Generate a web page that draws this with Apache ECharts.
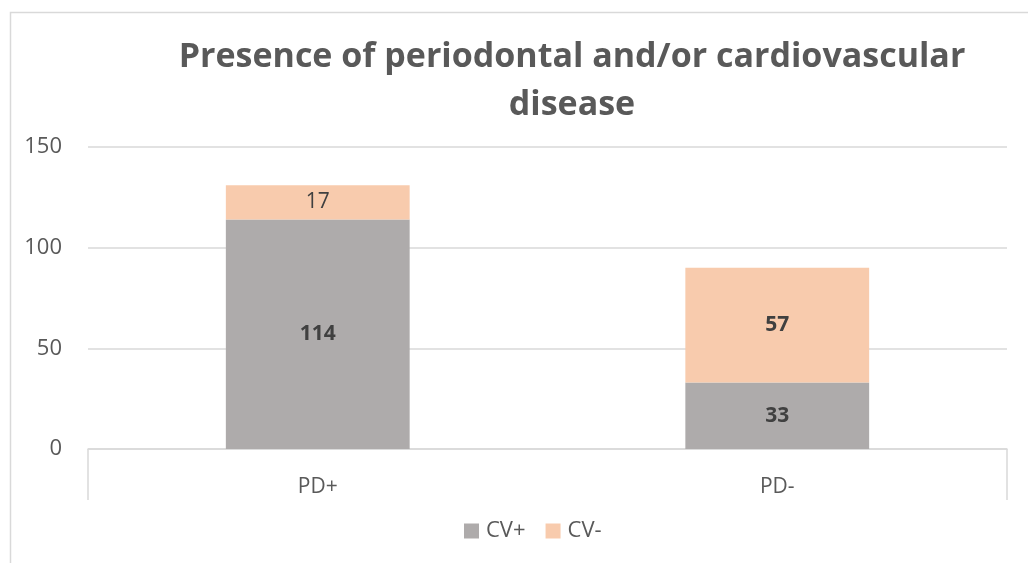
<!DOCTYPE html>
<html>
<head>
<meta charset="utf-8">
<script src="https://cdn.jsdelivr.net/npm/echarts@6/dist/echarts.min.js"></script>
<style>
  html, body { margin: 0; padding: 0; background: #fff; }
  #chart { width: 1028px; height: 563px; }
</style>
</head>
<body>
<div id="chart"></div>
<script>
  var categories = ['PD+', 'PD-'];
  var cvPlus = [114, 33];
  var cvMinus = [17, 57];
  var yTicks = [0, 50, 100, 150];

  var font = '"Open Sans", Lato, sans-serif';

  var chart = echarts.init(document.getElementById('chart'));
  var option = {
    animation: false,
    textStyle: { fontFamily: font },
    title: {
      text: 'Presence of periodontal and/or cardiovascular\ndisease',
      left: 567,
      textAlign: 'center',
      top: 28,
      textStyle: {
        color: '#595959',
        fontSize: 34,
        fontWeight: 'bold',
        lineHeight: 48,
        fontFamily: font
      }
    },
    // chart frame
    graphic: [{
      type: 'rect',
      shape: { x: 10.5, y: 12.5, width: 1100, height: 700 },
      style: { fill: 'none', stroke: '#D9D9D9', lineWidth: 1.5 },
      silent: true
    }],
    legend: {
      data: ['CV+', 'CV-'],
      left: 459,
      top: 515,
      itemWidth: 15,
      itemHeight: 15,
      itemGap: 20,
      icon: 'rect',
      textStyle: { color: '#595959', fontSize: 22, fontFamily: font, padding: [0, 0, 0, 2] }
    },
    grid: {
      left: 88,
      right: 21,
      top: 147,
      bottom: 114,
      containLabel: false
    },
    xAxis: [{
      type: 'category',
      data: categories,
      axisLine: { show: true, lineStyle: { color: '#D9D9D9', width: 1.5 } },
      axisTick: { show: false },
      axisLabel: { color: '#595959', fontSize: 21, margin: 28, fontFamily: font },
      splitLine: { show: false }
    }, {
      // boundary ticks at both ends of the category axis
      type: 'value',
      position: 'bottom',
      min: 0,
      max: 1,
      interval: 1,
      axisLine: { show: false },
      axisLabel: { show: false },
      splitLine: { show: false },
      axisTick: { show: true, inside: false, length: 51, lineStyle: { color: '#D9D9D9', width: 1.5 } }
    }],
    yAxis: {
      type: 'value',
      min: yTicks[0],
      max: yTicks[yTicks.length - 1],
      interval: 50,
      axisLine: { show: false },
      axisTick: { show: false },
      axisLabel: { color: '#595959', fontSize: 22, margin: 26, fontFamily: font },
      splitLine: { lineStyle: { color: '#D9D9D9', width: 1.5 } }
    },
    series: [{
      name: 'CV+',
      type: 'bar',
      stack: 'total',
      data: cvPlus,
      barWidth: '40%',
      itemStyle: { color: '#AEABAB' },
      label: {
        show: true,
        position: 'inside',
        color: '#404040',
        fontSize: 21,
        fontWeight: 'bold',
        fontFamily: font
      }
    }, {
      name: 'CV-',
      type: 'bar',
      stack: 'total',
      data: cvMinus.map(function (v, i) {
        // the small segment label is drawn in regular weight
        return i === 0 ? { value: v, label: { fontWeight: 'normal' } } : v;
      }),
      barWidth: '40%',
      itemStyle: { color: '#F8CBAD' },
      label: {
        show: true,
        position: 'inside',
        color: '#404040',
        fontSize: 21,
        fontWeight: 'bold',
        fontFamily: font
      }
    }]
  };
  chart.setOption(option);
  window.addEventListener('resize', function () {
    chart.resize();
  });
</script>
</body>
</html>
